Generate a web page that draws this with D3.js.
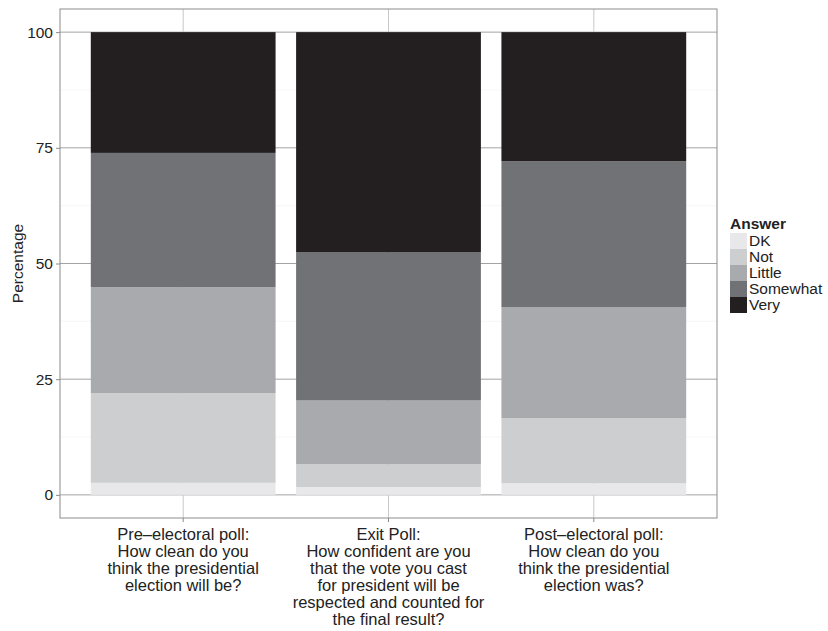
<!DOCTYPE html>
<html>
<head>
<meta charset="utf-8">
<script src="https://cdn.jsdelivr.net/npm/d3@7"></script>
<style>
  body { margin: 0; background: #fff; }
  text { font-family: "Liberation Sans", Arial, sans-serif; fill: #222; }
</style>
</head>
<body>
<div id="chart"></div>
<script>
// polls (x categories), each label split in lines
const polls = ["pre", "exit", "post"]
const pollLabels = [
    ["Pre\u2013electoral poll:", "How clean do you", "think the presidential", "election will be?"],
    ["Exit Poll:", "How confident are you", "that the vote you cast", "for president will be", "respected and counted for", "the final result?"],
    ["Post\u2013electoral poll:", "How clean do you", "think the presidential", "election was?"]
]
const answers = ["DK", "Not", "Little", "Somewhat", "Very"]
// percentages per answer, same order as polls
const dkVals = [2.6, 1.7, 2.5]
const notVals = [19.4, 4.9, 14.1]
const littleVals = [22.9, 13.8, 24.0]
const somewhatVals = [29.0, 32.0, 31.5]
const veryVals = [26.1, 47.6, 27.9]
const yTicks = [0, 25, 50, 75, 100]

const colors = ["#e8e8ea", "#cdced0", "#a9aaad", "#717275", "#231f20"]

const rows = polls.map((p, i) => ({
    poll: p,
    DK: dkVals[i], Not: notVals[i], Little: littleVals[i],
    Somewhat: somewhatVals[i], Very: veryVals[i]
}))

const width = 828, height = 631
const margin = {left: 60, right: 111, top: 9, bottom: 113}

const svg = d3.select("#chart").append("svg")
    .attr("width", width)
    .attr("height", height)

// ggplot-like discrete expansion: 0.6 of a step each side, bars 0.9 wide
const x = d3.scaleBand()
    .domain(polls)
    .range([margin.left, width - margin.right])
    .paddingInner(0.1)
    .paddingOuter(0.15)

const y = d3.scaleLinear()
    .domain([-5, 105])
    .range([height - margin.bottom, margin.top])

const color = d3.scaleOrdinal(answers, colors)

// panel grid
const grid = svg.append("g")
d3.range(12.5, 100, 25).forEach(v => {
    grid.append("line")
        .attr("x1", margin.left).attr("x2", width - margin.right)
        .attr("y1", y(v)).attr("y2", y(v))
        .attr("stroke", "#f2f2f2").attr("stroke-width", 0.6)
})
yTicks.forEach(v => {
    grid.append("line")
        .attr("x1", margin.left).attr("x2", width - margin.right)
        .attr("y1", y(v)).attr("y2", y(v))
        .attr("stroke", "#a3a3a3").attr("stroke-width", 1)
})
polls.forEach(p => {
    const cx = x(p) + x.bandwidth() / 2
    grid.append("line")
        .attr("x1", cx).attr("x2", cx)
        .attr("y1", margin.top).attr("y2", height - margin.bottom)
        .attr("stroke", "#c8c8c8").attr("stroke-width", 1)
})

const series = d3.stack().keys(answers)(rows)

svg.append("g")
    .selectAll("g")
    .data(series)
    .join("g")
    .attr("fill", d => color(d.key))
    .selectAll("rect")
    .data(d => d)
    .join("rect")
    .attr("x", d => x(d.data.poll))
    .attr("width", x.bandwidth())
    .attr("y", d => y(d[1]))
    .attr("height", d => y(d[0]) - y(d[1]))

// panel border
svg.append("rect")
    .attr("x", margin.left).attr("y", margin.top)
    .attr("width", width - margin.left - margin.right)
    .attr("height", height - margin.top - margin.bottom)
    .attr("fill", "none").attr("stroke", "#8c8c8c").attr("stroke-width", 1)

// y axis
const yAxis = svg.append("g")
    .attr("transform", `translate(${margin.left},0)`)
    .call(d3.axisLeft(y).tickValues(yTicks).tickSize(4).tickPadding(3))
yAxis.select(".domain").remove()
yAxis.selectAll(".tick line").attr("stroke", "#8c8c8c")
yAxis.selectAll("text").attr("font-size", 15.5).attr("fill", "#222")
    .attr("font-family", "Liberation Sans, Arial, sans-serif")

// x axis
const xAxis = svg.append("g")
    .attr("transform", `translate(0,${height - margin.bottom})`)
    .call(d3.axisBottom(x).tickSize(4).tickFormat(""))
xAxis.select(".domain").remove()
xAxis.selectAll(".tick line").attr("stroke", "#8c8c8c")

polls.forEach((p, i) => {
    const t = svg.append("text")
        .attr("x", x(p) + x.bandwidth() / 2)
        .attr("y", height - margin.bottom + 22)
        .attr("text-anchor", "middle")
        .attr("font-size", 16.5)
    pollLabels[i].forEach((line, j) => {
        t.append("tspan")
            .attr("x", x(p) + x.bandwidth() / 2)
            .attr("dy", j === 0 ? 0 : 17)
            .text(line)
    })
})

// y title
svg.append("text")
    .attr("transform", `translate(23,${y(50)}) rotate(-90)`)
    .attr("text-anchor", "middle")
    .attr("font-size", 15.5)
    .text("Percentage")

// legend
const lg = svg.append("g").attr("transform", "translate(730,215)")
lg.append("text")
    .attr("x", 0).attr("y", 14)
    .attr("font-size", 15.5).attr("font-weight", "bold")
    .text("Answer")
answers.forEach((a, i) => {
    lg.append("rect")
        .attr("x", 0).attr("y", 18 + i * 16)
        .attr("width", 17).attr("height", 16)
        .attr("fill", color(a))
    lg.append("text")
        .attr("x", 19).attr("y", 18 + i * 16 + 13)
        .attr("font-size", 15.5)
        .text(a)
})
</script>
</body>
</html>
